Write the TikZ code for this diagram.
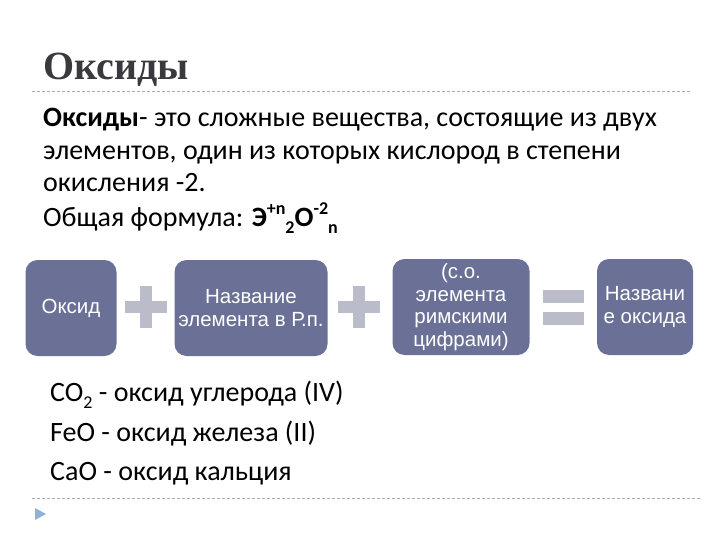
\documentclass[tikz,border=0pt]{standalone}
\usepackage{fontspec}
\setmainfont{Carlito}
\newfontfamily\titlefont{Liberation Serif}
\newfontfamily\boxfont{Liberation Sans}
\definecolor{boxblue}{RGB}{106,112,150}
\definecolor{plusgray}{RGB}{186,188,201}
\definecolor{titlegray}{RGB}{58,58,62}
\definecolor{dashgray}{RGB}{170,170,170}
\definecolor{markblue}{RGB}{143,176,216}
\begin{document}
\begin{tikzpicture}[x=1pt,y=-1pt,
  txt/.style={anchor=base west, inner sep=0pt, font=\fontsize{28}{32}\selectfont, text=black},
  bbox/.style={fill=boxblue, rounded corners=12pt, draw=none, text=white, align=center,
    font=\boxfont\fontsize{20.5}{22.5}\selectfont, inner sep=0pt},
  symb/.style={fill=plusgray, draw=none},
  sep/.style={draw=dashgray, dash pattern=on 3pt off 2pt, line width=0.6pt}]
\useasboundingbox (0,0) rectangle (720,540);
% title
\node[anchor=base west, inner sep=0pt, text=titlegray, font=\titlefont\bfseries\fontsize{40}{44}\selectfont] (title) at (43,80) {Оксиды};
\coordinate (s1a) at (32,91); \coordinate (s1b) at (692,91);
\draw[sep] (s1a) -- (s1b);
% body
\node[txt] (l1) at (43,127) {\textbf{Оксиды}- это сложные вещества, состоящие из двух};
\node[txt] (l2) at (43,160) {элементов, один из которых кислород в степени};
\node[txt] (l3) at (43,192) {окисления -2.};
\node[txt] (l4) at (43,226) {Общая формула: \textbf{Э\raisebox{0.42em}{\fontsize{18}{20}\selectfont +n}\raisebox{-0.28em}{\fontsize{18}{20}\selectfont 2}O\raisebox{0.42em}{\fontsize{18}{20}\selectfont -2}\raisebox{-0.28em}{\fontsize{18}{20}\selectfont n}}};
% boxes
\node[bbox, minimum width=91pt, minimum height=96pt] (b1) at (71,308) {Оксид};
\node[bbox, minimum width=153pt, minimum height=96pt] (b2) at (251,308) {Название\\элемента в Р.п.};
\node[bbox, minimum width=137pt, minimum height=96pt] (b3) at (461,307) {(с.о.\\элемента\\римскими\\цифрами)};
\node[bbox, minimum width=96pt, minimum height=96pt] (b4) at (645,307) {Названи\\е оксида};
% plus signs
\fill[symb] (125,301) rectangle (167,313);
\fill[symb] (140,286) rectangle (152,328);
\fill[symb] (338,301) rectangle (380,313);
\fill[symb] (353,286) rectangle (365,328);
% equals
\fill[symb] (543,290) rectangle (584,303);
\fill[symb] (543,312) rectangle (584,325);
% examples
\node[txt] (e1) at (50,401) {CO\raisebox{-0.28em}{\fontsize{18}{20}\selectfont 2} - оксид углерода (IV)};
\node[txt] (e2) at (50,441) {FeO - оксид железа (II)};
\node[txt] (e3) at (50,480) {CaO - оксид кальция};
\coordinate (s2a) at (32,498); \coordinate (s2b) at (700,498);
\draw[sep] (s2a) -- (s2b);
\fill[markblue] (35,508) -- (46,514) -- (35,520) -- cycle;
\end{tikzpicture}
\end{document}
